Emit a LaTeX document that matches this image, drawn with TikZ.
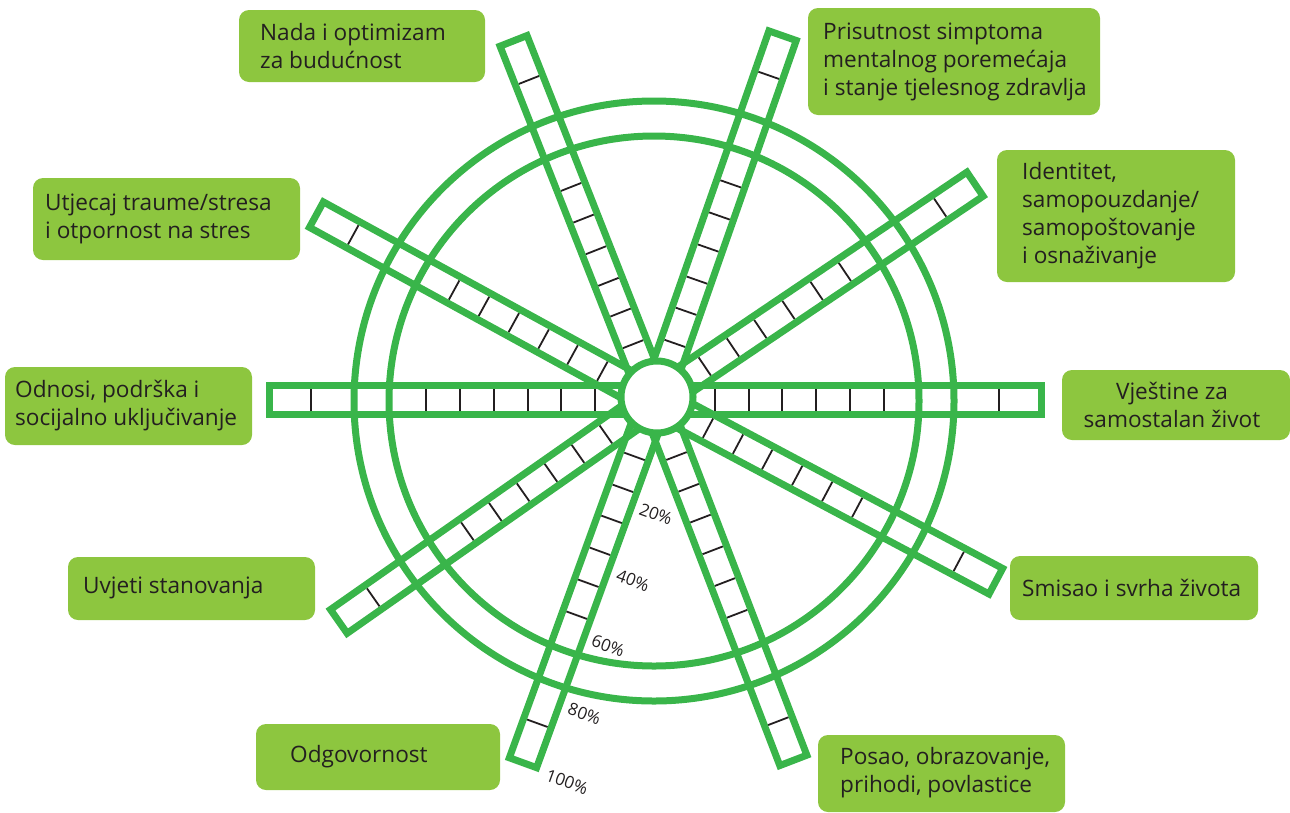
\documentclass[tikz,border=0pt]{standalone}
\usepackage{fontspec}
\setmainfont{Open Sans}
\usetikzlibrary{calc}
\definecolor{bargreen}{HTML}{39B54A}
\definecolor{boxgreen}{HTML}{8DC63F}
\definecolor{ink}{HTML}{231F20}
\begin{document}
\begin{tikzpicture}[x=1pt,y=1pt,
  barline/.style={draw=bargreen, line width=7pt},
  tickline/.style={draw=ink, line width=1.8pt},
  boxfill/.style={fill=boxgreen, rounded corners=10pt},
  lbl/.style={font=\fontsize{22.6}{28}\selectfont, text=ink, align=left, inner sep=0pt},
  pct/.style={font=\fontsize{17}{20}\selectfont, text=ink, rotate=-20, inner sep=0pt}]
\useasboundingbox (0,0) rectangle (1290,-812);
\coordinate (c) at (655,-400);
% label boxes
\fill[boxfill] (239,-10) rectangle (485,-82);
\node[lbl, anchor=west] (n1) at (260,-46) {Nada i optimizam\\za budućnost};
\fill[boxfill] (808,-8) rectangle (1100,-115);
\node[lbl, anchor=west] (n2) at (823,-62) {Prisutnost simptoma\\mentalnog poremećaja\\i stanje tjelesnog zdravlja};
\fill[boxfill] (997,-150) rectangle (1235,-282);
\node[lbl, anchor=west] (n3) at (1022,-216) {Identitet,\\samopouzdanje/\\samopoštovanje\\i osnaživanje};
\fill[boxfill] (33,-178) rectangle (300,-260);
\node[lbl, anchor=west] (n4) at (45,-219) {Utjecaj traume/stresa\\i otpornost na stres};
\fill[boxfill] (5,-367) rectangle (252,-445);
\node[lbl, anchor=west] (n5) at (15,-406) {Odnosi, podrška i\\socijalno uključivanje};
\fill[boxfill] (1062,-370) rectangle (1290,-440);
\node[lbl, align=center] (n6) at (1172,-405) {Vještine za\\samostalan život};
\fill[boxfill] (68,-557) rectangle (315,-620);
\node[lbl, anchor=west] (n7) at (83,-588) {Uvjeti stanovanja};
\fill[boxfill] (1010,-556) rectangle (1258,-620);
\node[lbl, anchor=west] (n8) at (1022,-588) {Smisao i svrha života};
\fill[boxfill] (256,-724) rectangle (500,-790);
\node[lbl, anchor=west] (n9) at (290,-757) {Odgovornost};
\fill[boxfill] (818,-735) rectangle (1065,-812);
\node[lbl, anchor=west] (n10) at (840,-773) {Posao, obrazovanje,\\prihodi, povlastice};
% spokes
\foreach \a in {111.5,70.7,34,0,-28,-69,-110,215,180,151.3}{
  \begin{scope}[shift={(655,-400)}, rotate=\a]
    \foreach \t in {60,94,127,161,195,229,344}
      \draw[tickline] (\t,-11) -- (\t,11);
    \draw[barline] (20,-14.5) rectangle (386,14.5);
  \end{scope}
}
% rings
\draw[barline] (654,-401) circle (300);
\draw[barline] (654,-401) circle (265);
\draw[barline, fill=white] (657,-397) circle (36);
% percent labels
\node[pct] (p20) at ($(c)+(-110:107)+(-20:40)$) {20\%};
\node[pct] (p40) at ($(c)+(-110:177)+(-20:41)$) {40\%};
\node[pct] (p60) at ($(c)+(-110:247)+(-20:40)$) {60\%};
\node[pct] (p80) at ($(c)+(-110:319)+(-20:41)$) {80\%};
\node[pct] (p100) at ($(c)+(-110:389)+(-20:48)$) {100\%};
\end{tikzpicture}
\end{document}
